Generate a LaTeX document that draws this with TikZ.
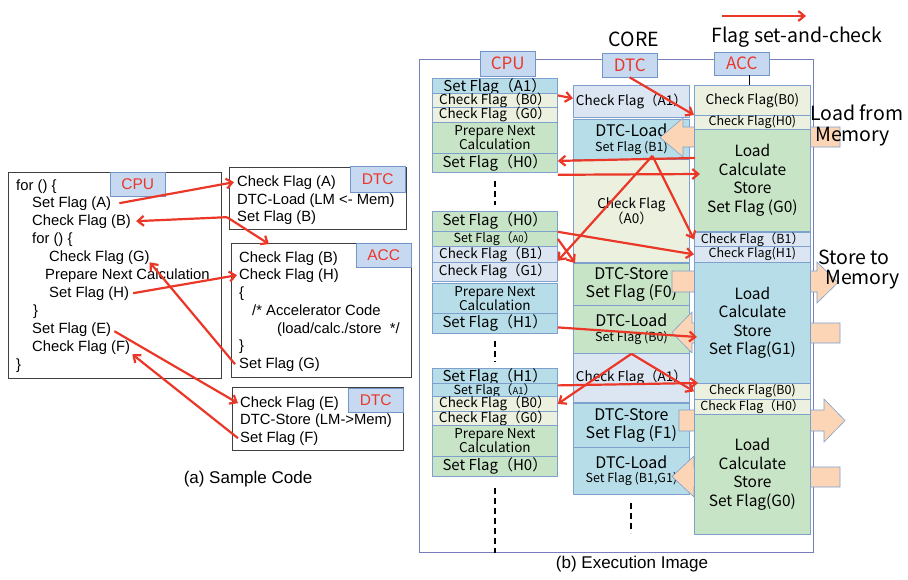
\documentclass[tikz,border=0pt]{standalone}
\usepackage{fontspec}
\setmainfont{Liberation Sans}
\newfontfamily\jfont{Noto Sans CJK JP}
\usetikzlibrary{arrows.meta, positioning, calc}
\definecolor{flagred}{RGB}{235,55,40}
\definecolor{tagfill}{RGB}{198,217,241}
\definecolor{tagline}{RGB}{115,150,200}
\definecolor{cellline}{RGB}{125,160,205}
\definecolor{tealfill}{RGB}{183,222,232}
\definecolor{greenfill}{RGB}{200,228,198}
\definecolor{beigefill}{RGB}{235,241,222}
\definecolor{bluefill}{RGB}{220,230,242}
\definecolor{memfill}{RGB}{251,213,181}
\definecolor{framepurple}{RGB}{120,125,190}
\newcommand{\bigf}{\jfont\fontsize{15}{16}\selectfont}
\newcommand{\midf}{\jfont\fontsize{13.5}{15}\selectfont}
\newcommand{\smlf}{\jfont\fontsize{12.5}{14}\selectfont}
\newcommand{\dtcf}{\jfont\fontsize{16}{17.5}\selectfont}
\newcommand{\calcf}{\jfont\fontsize{15.5}{18.5}\selectfont}
\newcommand{\headf}{\jfont\fontsize{19.5}{23}\selectfont}

\begin{document}
\begin{tikzpicture}[x=1pt, y=-1pt,
  code/.style={anchor=base west, inner sep=0pt, font=\fontsize{14.8}{17}\selectfont},
  codebox/.style={draw=black!75, line width=0.8pt, anchor=north west, inner sep=0pt},
  tag/.style={draw=tagline, fill=tagfill, text=flagred, anchor=north west, inner sep=0pt, minimum width=55pt},
  cell/.style={draw=cellline, line width=0.8pt, anchor=north west, inner sep=0pt, align=center, minimum width=116pt},
  cpucell/.style={cell, minimum width=125pt},
  flag/.style={draw=flagred, line width=2.2pt, -{Straight Barb[length=6pt,width=10pt]}},
  mem/.style={draw=cellline, fill=memfill, line width=0.6pt},
  dotline/.style={line width=2pt, dash pattern=on 6pt off 4pt}
]
\useasboundingbox (0,0) rectangle (908,579);

% (a) sample code
\node[codebox, minimum width=213pt, minimum height=206pt] (cpucode) at (8,172) {};
\node[tag, minimum height=24pt, font=\fontsize{15.5}{17}\selectfont] (tagcpu) at (110,172) {CPU};
\node[code] (for1) at (16,190) {for () \{};
\node[code] (setA) at (32,207) {Set Flag (A)};
\node[code] (chkB) at (32,225) {Check Flag (B)};
\node[code] (for2) at (32,243) {for () \{};
\node[code] (chkG) at (49,261) {Check Flag (G)};
\node[code] (prep) at (45,279) {Prepare Next Calculation};
\node[code] (setH) at (49,297) {Set Flag (H)};
\node[code] (end2) at (33,315) {\}};
\node[code] (setE) at (32,333) {Set Flag (E)};
\node[code] (chkF) at (32,351) {Check Flag (F)};
\node[code] (end1) at (16,369) {\}};

\node[codebox, minimum width=177pt, minimum height=62pt] (dtccode) at (229,167) {};
\node[tag, minimum height=26pt, font=\fontsize{15.5}{17}\selectfont] (tagdtc) at (350,166) {DTC};
\node[code] (chkAd) at (237,186) {Check Flag (A)};
\node[code] (loadd) at (237,204) {DTC-Load (LM <- Mem)};
\node[code] (setBd) at (237,221) {Set Flag (B)};

\node[codebox, minimum width=180pt, minimum height=134pt] (acccode) at (231,243) {};
\node[tag, minimum height=24pt, font=\fontsize{15.5}{17}\selectfont] (tagacc) at (356,243) {ACC};
\node[code] (chkBa) at (239,262) {Check Flag (B)};
\node[code] (chkHa) at (239,279) {Check Flag (H)};
\node[code] (opena) at (239,297) {\{};
\node[code] (acc1) at (252,315) {/* Accelerator Code};
\node[code] (acc2) at (277,333) {(load/calc./store\ \ */};
\node[code] (closea) at (239,350) {\}};
\node[code] (setGa) at (239,368) {Set Flag (G)};

\node[codebox, minimum width=171pt, minimum height=63pt] (storecode) at (232,387) {};
\node[tag, minimum height=24pt, font=\fontsize{15.5}{17}\selectfont] (tagdtc2) at (348,388) {DTC};
\node[code] (chkEd) at (240,407) {Check Flag (E)};
\node[code] (stored) at (240,424) {DTC-Store (LM->Mem)};
\node[code] (setFd) at (240,442) {Set Flag (F)};

\node[font=\fontsize{17}{19}\selectfont] (capa) at (248,479) {(a) Sample Code};

\draw[flag] ([xshift=8pt]setA.east) -- ([xshift=-3pt]chkAd.west);
\coordinate (fromB) at ([xshift=-10pt]setBd.west);
\draw[flag] (fromB) -- ([xshift=5pt]chkB.east);
\draw[flag] (fromB) -- ([xshift=30pt,yshift=7pt]chkBa.north west);
\draw[flag] ([xshift=4pt]setH.east) -- ([xshift=-2pt]chkHa.west);
\draw[flag] ([xshift=-4pt]setGa.west) -- ([yshift=2pt]chkG.south east);
\draw[flag] ([xshift=3pt,yshift=-2pt]setE.east) -- ([xshift=-2pt]chkEd.west);
\draw[flag] ([xshift=-2pt]setFd.west) -- ([xshift=2pt]chkF.south east);

% (b) execution image
\node[draw=framepurple, line width=0.9pt, anchor=north west, inner sep=0pt, minimum width=394pt, minimum height=493pt] (frame) at (419,59) {};
\node[font=\headf] (core) at (634,39) {CORE};
\node[font=\headf] (legend) at (797,37) {Flag set-and-check};
\coordinate (legA) at (722,16);
\coordinate (legB) at (806,16);
\draw[flag] (legA) -- (legB);

\node[tag, minimum height=25pt, font=\jfont\fontsize{17}{19}\selectfont] (tagC) at (480,51) {CPU};
\node[tag, minimum height=24pt, font=\jfont\fontsize{17}{19}\selectfont] (tagD) at (602,53) {DTC};
\node[tag, minimum height=23pt, font=\jfont\fontsize{17}{19}\selectfont] (tagA) at (714,52) {ACC};

% CPU column
\node[cpucell, fill=tealfill, minimum height=15pt, font=\bigf] (cA1a) at (432,78) {Set Flag（A1）};
\node[cpucell, fill=beigefill, minimum height=14pt, font=\midf] (cB0a) at (432,93) {Check Flag（B0）};
\node[cpucell, fill=beigefill, minimum height=15pt, font=\midf] (cG0a) at (432,107) {Check Flag（G0）};
\node[cpucell, fill=greenfill, minimum height=31pt, font=\midf] (cPrep0) at (432,122) {Prepare Next\\[-1pt]Calculation};
\node[cpucell, fill=greenfill, minimum height=19pt, font=\bigf] (cH0a) at (432,153) {Set Flag（H0）};

\node[cpucell, fill=greenfill, minimum height=20pt, font=\bigf] (cH0b) at (432,211) {Set Flag（H0）};
\node[cpucell, fill=greenfill, minimum height=15pt, font=\smlf] (cA0) at (432,231) {Set Flag（{\fontsize{9.5}{10}\selectfont A0}）};
\node[cpucell, fill=bluefill, minimum height=16pt, font=\midf] (cB1a) at (432,246) {Check Flag（B1）};
\node[cpucell, fill=bluefill, minimum height=19pt, font=\midf] (cG1) at (432,262) {Check Flag（G1）};
\node[cpucell, fill=tealfill, minimum height=30pt, font=\midf] (cPrep1) at (432,283) {Prepare Next\\[-1pt]Calculation};
\node[cpucell, fill=tealfill, minimum height=20pt, font=\bigf] (cH1a) at (432,313) {Set Flag（H1）};

\node[cpucell, fill=tealfill, minimum height=15pt, font=\bigf] (cH1b) at (432,368) {Set Flag（H1）};
\node[cpucell, fill=tealfill, minimum height=13pt, font=\smlf] (cA1b) at (432,383) {Set Flag（{\fontsize{9.5}{10}\selectfont A1}）};
\node[cpucell, fill=beigefill, minimum height=15pt, font=\midf] (cB0b) at (432,396) {Check Flag（B0）};
\node[cpucell, fill=beigefill, minimum height=14pt, font=\midf] (cG0b) at (432,411) {Check Flag（G0）};
\node[cpucell, fill=greenfill, minimum height=31pt, font=\midf] (cPrep2) at (432,425) {Prepare Next\\[-1pt]Calculation};
\node[cpucell, fill=greenfill, minimum height=20pt, font=\bigf] (cH0c) at (432,456) {Set Flag（H0）};

\draw[dotline] ([yshift=-8pt]cH0a.south) -- ([yshift=6pt]cH0b.north);
\draw[dotline] ([yshift=-7pt]cH1a.south) -- ([yshift=6pt]cH1b.north);
\draw[dotline] ([yshift=-11pt]cH0c.south) -- (cH0c.south |- frame.south);

% DTC column
\node[cell, fill=bluefill, minimum height=32pt, font=\midf] (dA1a) at (573,85) {Check Flag（A1）};
\node[cell, fill=tealfill, minimum height=40pt, font=\dtcf] (dLoad0) at (573,119) {DTC-Load\\[-3pt]{\smlf Set Flag (B1)}};
\node[cell, fill=beigefill, minimum height=103pt, font=\midf] (dA0) at (573,159) {Check Flag\\（A0）};
\node[cell, fill=greenfill, minimum height=42pt, font=\dtcf] (dStore0) at (573,263) {DTC-Store\\Set Flag (F0)};
\node[cell, fill=greenfill, minimum height=48pt, font=\dtcf] (dLoad1) at (573,305) {DTC-Load\\[-3pt]{\smlf Set Flag (B0)}};
\node[cell, fill=bluefill, minimum height=49pt, font=\midf] (dA1b) at (573,353) {Check Flag（A1）};
\node[cell, fill=tealfill, minimum height=44pt, font=\dtcf] (dStore1) at (573,403) {DTC-Store\\Set Flag (F1)};
\node[cell, fill=tealfill, minimum height=47pt, font=\dtcf] (dLoad2) at (573,447) {DTC-Load\\[-3pt]{\smlf Set Flag (B1,G1)}};
\draw[dotline] ([yshift=-8pt]dLoad2.south) -- ([yshift=-38pt]dLoad2.south);

% memory transfers
\draw[mem] (840,127) -- (683,127) -- (683,118) -- (660,137.5) -- (683,157) -- (683,147) -- (840,147) -- cycle;
\draw[mem] (672,271) -- (817,271) -- (817,262) -- (838,282.5) -- (817,303) -- (817,292) -- (672,292) -- cycle;
\draw[mem] (840,323) -- (692,323) -- (692,312) -- (672,332.5) -- (692,353) -- (692,343) -- (840,343) -- cycle;
\draw[mem] (679,410) -- (824,410) -- (824,399) -- (845,420.5) -- (824,442) -- (824,431) -- (679,431) -- cycle;
\draw[mem] (840,467) -- (694,467) -- (694,456) -- (672,476.5) -- (694,497) -- (694,487) -- (840,487) -- cycle;

% ACC column
\node[cell, fill=beigefill, minimum height=30pt, font=\midf] (aB0a) at (694,85) {Check Flag(B0)};
\node[cell, fill=beigefill, minimum height=14pt, font=\smlf] (aH0a) at (694,115) {Check Flag(H0)};
\node[cell, fill=greenfill, minimum height=102pt, font=\calcf] (aCalc0) at (694,129) {Load\\Calculate\\Store\\Set Flag (G0)};
\node[cell, fill=bluefill, minimum height=14pt, font=\smlf] (aB1) at (694,232) {Check Flag（B1）};
\node[cell, fill=bluefill, minimum height=16pt, font=\smlf] (aH1) at (694,246) {Check Flag(H1)};
\node[cell, fill=tealfill, minimum height=121pt, font=\calcf] (aCalc1) at (694,262) {Load\\Calculate\\Store\\Set Flag(G1)};
\node[cell, fill=beigefill, minimum height=16pt, font=\smlf] (aB0b) at (694,383) {Check Flag(B0)};
\node[cell, fill=beigefill, minimum height=15pt, font=\smlf] (aH0b) at (694,399) {Check Flag（H0）};
\node[cell, fill=greenfill, minimum height=120pt, font=\calcf] (aCalc2) at (694,414) {Load\\Calculate\\Store\\Set Flag(G0)};
\draw[line width=1.2pt] ([xshift=8pt]tagA.south) -- ([xshift=8pt]tagA.south |- aB0a.north);

\node[font=\headf, anchor=west, inner sep=0pt] (lfm1) at (810,113) {Load from};
\node[font=\headf, anchor=west, inner sep=0pt] (lfm2) at (815,137) {Memory};
\node[font=\headf, anchor=west, inner sep=0pt] (stm1) at (818,257) {Store to};
\node[font=\headf, anchor=west, inner sep=0pt] (stm2) at (825,280) {Memory};

% flag set-and-check
\draw[flag] (tagD.south) -- (aH0a.north west);
\draw[flag] (cA1a.south east) -- ([yshift=3pt]dA1a.west);
\draw[flag] ([xshift=1pt,yshift=-29pt]aCalc0.north west) -- ([yshift=2pt]cH0a.east);
\draw[flag] ([yshift=-2pt]cH0a.south east) -- ([xshift=6pt,yshift=-45pt]aCalc0.north west);
\coordinate (fB1) at ([xshift=21pt,yshift=4pt]dLoad0.south);
\draw[flag] (fB1) -- ([yshift=2pt]cB1a.south east);
\draw[flag] (fB1) -- (aB1.west);
\draw[flag] (cH0b.south east) -- (aH1.west);
\draw[flag] (cA0.east) -- ([xshift=2pt]dStore0.north west);
\draw[flag] ([yshift=-4pt]cH1a.east) -- ([xshift=3pt,yshift=-75pt]aCalc1.north west);
\draw[flag] (dLoad1.south) -- (cB0b.east);
\draw[flag] (dLoad1.south) -- (aB0b.west);
\draw[flag] (cH1b.south east) -- ([xshift=4pt]aB0b.north west);

\node[font=\fontsize{17}{19}\selectfont] (capb) at (632,564) {(b) Execution Image};
\end{tikzpicture}
\end{document}
